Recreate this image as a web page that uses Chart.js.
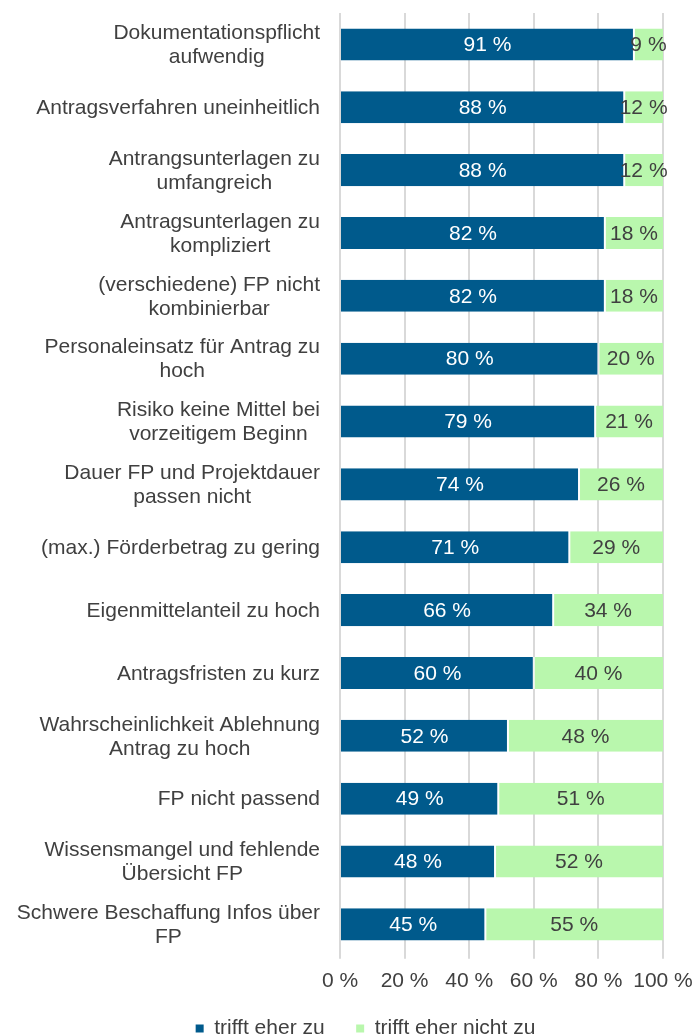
<!DOCTYPE html>
<html><head><meta charset="utf-8">
<script src="https://cdn.jsdelivr.net/npm/chart.js@4/dist/chart.umd.min.js"></script>
<style>html,body{margin:0;padding:0;background:#fff;}#c{display:block;}</style>
</head><body>
<canvas id="c" width="695" height="1034"></canvas>
<script>
const categories = [
  ["Dokumentationspflicht","aufwendig"],
  "Antragsverfahren uneinheitlich",
  ["Antrangsunterlagen zu","umfangreich"],
  ["Antragsunterlagen zu","kompliziert"],
  ["(verschiedene) FP nicht","kombinierbar"],
  ["Personaleinsatz für Antrag zu","hoch"],
  ["Risiko keine Mittel bei","vorzeitigem Beginn"],
  ["Dauer FP und Projektdauer","passen nicht"],
  "(max.) Förderbetrag zu gering",
  "Eigenmittelanteil zu hoch",
  "Antragsfristen zu kurz",
  ["Wahrscheinlichkeit Ablehnung","Antrag zu hoch"],
  "FP nicht passend",
  ["Wissensmangel und fehlende","Übersicht FP"],
  ["Schwere Beschaffung Infos über","FP"]
];
const seriesNames = ["trifft eher zu", "trifft eher nicht zu"];
const trifftZu = [91, 88, 88, 82, 82, 80, 79, 74, 71, 66, 60, 52, 49, 48, 45];
const trifftNichtZu = [9, 12, 12, 18, 18, 20, 21, 26, 29, 34, 40, 48, 51, 52, 55];
const xTicks = [0, 20, 40, 60, 80, 100];

const FONT = "'Liberation Sans', Arial, sans-serif";
const TXT = '#404040';

const labelPlugin = {
  id: 'barLabels',
  afterLayout(chart) {
    if (chart.legend) { chart.legend.left += 34; chart.legend.right += 34; }
  },
  afterDatasetsDraw(chart) {
    const ctx = chart.ctx;
    ctx.save();
    ctx.font = '21px ' + FONT;
    ctx.textAlign = 'center';
    ctx.textBaseline = 'middle';
    chart.data.datasets.forEach((ds, di) => {
      const meta = chart.getDatasetMeta(di);
      meta.data.forEach((el, i) => {
        const p = el.getCenterPoint();
        ctx.fillStyle = di === 0 ? '#ffffff' : TXT;
        ctx.fillText(ds.data[i] + ' %', p.x, p.y + 1);
      });
    });
    // category labels: block right-aligned to the axis, lines centered within block
    const ys = chart.scales.y;
    const rightEdge = ys.right - 20;
    ctx.fillStyle = TXT;
    chart.data.labels.forEach((lab, i) => {
      const lines = Array.isArray(lab) ? lab : [lab];
      const w = Math.max(...lines.map(l => ctx.measureText(l).width));
      const cx = rightEdge - w / 2;
      const cy = ys.getPixelForValue(i);
      lines.forEach((l, j) => {
        ctx.fillText(l, cx, cy + (j - (lines.length - 1) / 2) * 24 + 1);
      });
    });
    ctx.restore();
  }
};

new Chart(document.getElementById('c'), {
  type: 'bar',
  data: {
    labels: categories,
    datasets: [
      { label: seriesNames[0], data: trifftZu, backgroundColor: '#005a8c', borderColor: '#ffffff', borderWidth: {right: 1, top: 0, bottom: 0, left: 0}, borderSkipped: false, categoryPercentage: 1, barPercentage: 0.51 },
      { label: seriesNames[1], data: trifftNichtZu, backgroundColor: '#b9f7ad', borderColor: '#ffffff', borderWidth: {left: 1, top: 0, bottom: 0, right: 0}, borderSkipped: false, categoryPercentage: 1, barPercentage: 0.51 }
    ]
  },
  options: {
    indexAxis: 'y',
    responsive: false,
    animation: false,
    devicePixelRatio: 1,
    layout: { padding: { left: 0, right: 32, top: 13, bottom: -15 } },
    plugins: {
      legend: {
        position: 'bottom',
        labels: {
          font: { size: 21, family: FONT }, color: TXT, boxWidth: 8, boxHeight: 8, padding: 14,
          generateLabels(chart) {
            const items = Chart.defaults.plugins.legend.labels.generateLabels(chart);
            items[0].text = items[0].text + '   ';
            items.forEach(it => { it.lineWidth = 0; });
            return items;
          }
        }
      },
      tooltip: { enabled: false }
    },
    scales: {
      x: {
        stacked: true, min: 0, max: 100,
        afterBuildTicks(scale) { scale.ticks = xTicks.map(v => ({ value: v })); },
        afterFit(scale) { scale.paddingRight = 0; scale.paddingLeft = 0; },
        ticks: { callback: v => v + ' %', font: { size: 21, family: FONT }, color: TXT, padding: 10, maxRotation: 0 },
        grid: { color: '#d9d9d9', lineWidth: 2, drawTicks: true, tickLength: 3 },
        border: { display: false }
      },
      y: {
        stacked: true,
        afterFit(scale) { scale.width = 340; scale.paddingTop = 0; scale.paddingBottom = 0; },
        ticks: { display: false, autoSkip: false },
        grid: { display: false, drawTicks: false },
        border: { display: false }
      }
    }
  },
  plugins: [labelPlugin]
});
</script>
</body></html>
